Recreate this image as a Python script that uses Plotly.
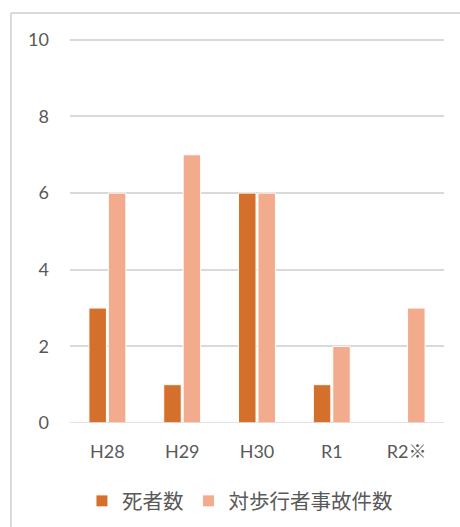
import plotly.graph_objects as go

# Yearly figures
years = ["H28", "H29", "H30", "R1", "R2※"]
deaths = [3, 1, 6, 1, 0]
pedestrian_accidents = [6, 7, 6, 2, 3]

y_ticks = [0, 2, 4, 6, 8, 10]

FONT = "Lato, 'Noto Sans CJK JP', sans-serif"
GRID = "#D9D9D9"
TEXT = "#595959"

fig = go.Figure()
fig.add_trace(go.Bar(
    x=years, y=deaths, name="死者数",
    marker=dict(color="#D4702B", line=dict(color="white", width=1)),
))
fig.add_trace(go.Bar(
    x=years, y=pedestrian_accidents, name="対歩行者事故件数",
    marker=dict(color="#F2AB8C", line=dict(color="white", width=1)),
))

fig.update_layout(
    width=460, height=527,
    margin=dict(l=70, r=16, t=36, b=104, autoexpand=False),
    paper_bgcolor="white", plot_bgcolor="white",
    font=dict(family=FONT, size=18, color=TEXT),
    barmode="group", bargap=0.48, bargroupgap=0.1,
    showlegend=True,
    legend=dict(orientation="h", x=0.032, xanchor="left", y=-0.15, yanchor="top",
                font=dict(size=20.5, color=TEXT), traceorder="normal",
                tracegroupgap=0),
    xaxis=dict(showgrid=False, showline=False, ticks="", ticklabelstandoff=16,
               tickfont=dict(size=18, color=TEXT)),
    yaxis=dict(range=[0, 10.1], tickvals=y_ticks, showgrid=True, gridcolor=GRID,
               gridwidth=1.5, zeroline=False, showline=False, ticks="",
               ticklabelstandoff=20, tickfont=dict(size=18, color=TEXT)),
    shapes=[
        dict(type="line", xref="paper", yref="paper", x0=-0.158, x1=1.2,
             y0=1.0595, y1=1.0595, line=dict(color=GRID, width=2)),
        dict(type="line", xref="paper", yref="paper", x0=-0.158, x1=-0.158,
             y0=1.0595, y1=-0.4, line=dict(color=GRID, width=2)),
        dict(type="line", xref="paper", yref="y", x0=0, x1=1, y0=0, y1=0,
             line=dict(color=GRID, width=1.5)),
    ],
)

fig.write_html("out.html")
